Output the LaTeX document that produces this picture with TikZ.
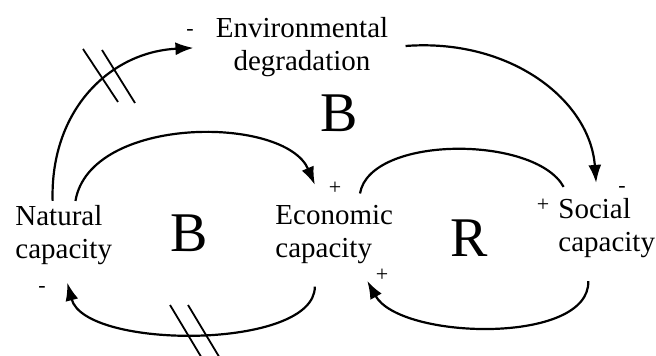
\documentclass[tikz,border=0pt]{standalone}
\usepackage{fontspec}
\setmainfont{Liberation Serif}
\usepackage{tikz}
\usetikzlibrary{arrows.meta, positioning}

\begin{document}
\begin{tikzpicture}[
    x=0.5pt, y=-0.5pt,
    var/.style={inner sep=2pt, align=left, font=\fontsize{14.5}{16.5}\selectfont},
    loop/.style={inner sep=0pt, font=\fontsize{28}{30}\selectfont},
    sign/.style={inner sep=0pt, font=\fontsize{11}{12}\selectfont},
    link/.style={line width=1.1pt, -{Latex[length=9pt, width=6.5pt]}},
    hash/.style={line width=0.9pt}
]
\useasboundingbox (0,0) rectangle (656,356);

% Variables
\node[var, align=center] (env) at (302,47) {Environmental\\degradation};
\node[var, anchor=west] (nat) at (11,235) {Natural\\capacity};
\node[var, anchor=west] (econ) at (271,235) {Economic\\capacity};
\node[var, anchor=west] (soc) at (554,228) {Social\\capacity};

% Loop markers
\node[loop] (loopB1) at (339,113) {B};
\node[loop] (loopB2) at (189,233) {B};
\node[loop] (loopR) at (469,238) {R};

% Links
\draw[link, shorten >=9pt] (nat.108) .. controls (50,110) and (110,52) .. (env.west);
\draw[link, shorten >=9pt] (nat.71) .. controls (90,115) and (285,115) .. (econ.110);
\draw[line width=1.1pt, shorten <=4pt, shorten >=4pt] (econ.54) .. controls (370,135) and (535,135) .. (soc.139);
\draw[link, shorten <=6.5pt, shorten >=5.5pt] (env.east) .. controls (510,38) and (590,100) .. (soc.106);
\draw[link, shorten <=9pt, shorten >=7pt] (econ.240) .. controls (315,350) and (85,350) .. (nat.south);
\draw[link, shorten <=9.5pt, shorten >=7pt] (soc.241) .. controls (590,345) and (400,340) .. (econ.308);

% Delay marks
\draw[hash] (83,49) -- (118,102);
\draw[hash] (102,50) -- (135,103);
\draw[hash] (170,305) -- (203,360);
\draw[hash] (188,305) -- (221,360);

% Polarities
\node[sign] (s1) at (190,33) {-};
\node[sign] (s2) at (335,188) {+};
\node[sign] (s3) at (622,190) {-};
\node[sign] (s4) at (543,205) {+};
\node[sign] (s5) at (42,289) {-};
\node[sign] (s6) at (382,275) {+};

\end{tikzpicture}
\end{document}
